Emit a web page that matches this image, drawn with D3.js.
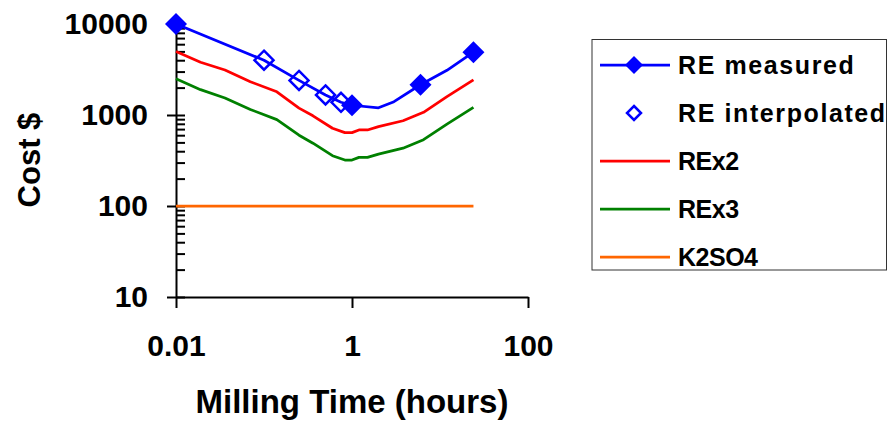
<!DOCTYPE html>
<html>
<head>
<meta charset="utf-8">
<script src="https://cdn.jsdelivr.net/npm/d3@7"></script>
<style>
	body { margin: 0; background: #fff; }
	svg { display: block; font-family: 'Liberation Sans', Arial, sans-serif; font-weight: bold; }
</style>
</head>
<body>
<svg id="chart" width="888" height="422"></svg>
<script>
// values (hours, $)
const measuredLineHours = [0.01, 0.1, 0.25, 0.5, 0.75, 1, 2, 3, 6, 12, 24]
const measuredLineCost = [10000, 4000, 2400, 1660, 1380, 1280, 1200, 1400, 2150, 3100, 4900]

const measuredHours = [0.01, 1, 6, 24]
const measuredCost = [10000, 1280, 2150, 4900]

const interpolatedHours = [0.1, 0.25, 0.5, 0.75]
const interpolatedCost = [4000, 2400, 1660, 1380]

const reHours = [0.01, 0.019, 0.036, 0.07, 0.14, 0.25, 0.36, 0.6, 0.83, 1, 1.2, 1.5, 2, 3.8, 6.5, 12, 24]
const rex2Cost = [5000, 3800, 3120, 2320, 1800, 1190, 980, 715, 640, 640, 685, 685, 745, 865, 1070, 1590, 2430]
const rex3Cost = [2500, 1900, 1540, 1150, 890, 600, 490, 357, 320, 320, 342, 342, 372, 432, 535, 795, 1215]

const k2so4Hours = [0.01, 24]
const k2so4Cost = [100, 100]

const xTicks = [0.01, 1, 100]
const yTicks = [10, 100, 1000, 10000]
const legendLabels = ['RE measured', 'RE interpolated', 'REx2', 'REx3', 'K2SO4']

const colors = { blue: '#0000ff', red: '#ff0000', green: '#008000', orange: '#ff6600' }

const svg = d3.select('#chart')

const x = d3.scaleLog().domain([0.01, 100]).range([176, 528])
const y = d3.scaleLog().domain([10, 10000]).range([297, 24])

// minor ticks 2..9 per decade, inside the plot
const yMinor = []
yTicks.slice(0, -1).forEach(d => {
	for (let k = 2; k <= 9; k++) yMinor.push(d * k)
})

const yAxisG = svg.append('g').attr('transform', 'translate(176,0)')
yAxisG.call(
	d3.axisLeft(y)
		.tickValues(yTicks)
		.tickSize(9)
		.tickSizeOuter(0)
		.tickPadding(19)
		.tickFormat(d3.format('d'))
)
yAxisG.append('g').call(
	d3.axisRight(y)
		.tickValues(yTicks.concat(yMinor))
		.tickSize(9)
		.tickSizeOuter(0)
		.tickFormat('')
)
yAxisG.select('g path.domain').remove()

const xAxisG = svg.append('g').attr('transform', 'translate(0,297)')
xAxisG.call(
	d3.axisBottom(x)
		.tickValues(xTicks)
		.tickSize(11)
		.tickSizeOuter(0)
		.tickPadding(27)
		.tickFormat(d => (d < 1 ? d3.format('.2f')(d) : d3.format('d')(d)))
)

svg.selectAll('.domain, .tick line')
	.attr('stroke', '#000')
	.attr('stroke-width', 2)
svg.selectAll('.tick text')
	.attr('fill', '#000')
	.style('font-size', '30px')
	.style('font-weight', 'bold')

// axis titles
svg.append('text')
	.attr('x', 352)
	.attr('y', 413)
	.attr('text-anchor', 'middle')
	.style('font-size', '33px')
	.text('Milling Time (hours)')

svg.append('text')
	.attr('transform', 'translate(40,160) rotate(-90)')
	.attr('text-anchor', 'middle')
	.style('font-size', '31px')
	.text('Cost $')

const line = d3.line()
	.x(d => x(d[0]))
	.y(d => y(d[1]))

const zipData = (xs, ys) => xs.map((v, i) => [v, ys[i]])

const series = [
	{ data: zipData(k2so4Hours, k2so4Cost), color: colors.orange },
	{ data: zipData(reHours, rex3Cost), color: colors.green },
	{ data: zipData(reHours, rex2Cost), color: colors.red },
	{ data: zipData(measuredLineHours, measuredLineCost), color: colors.blue }
]

svg.append('g')
	.selectAll('path')
	.data(series)
	.enter()
	.append('path')
	.attr('d', d => line(d.data))
	.attr('fill', 'none')
	.attr('stroke', d => d.color)
	.attr('stroke-width', 2.75)
	.attr('stroke-linejoin', 'round')

const diamond = r => `M0,${-r}L${r},0L0,${r}L${-r},0Z`

svg.append('g')
	.selectAll('path')
	.data(zipData(interpolatedHours, interpolatedCost))
	.enter()
	.append('path')
	.attr('transform', d => `translate(${x(d[0])},${y(d[1])})`)
	.attr('d', diamond(9.5))
	.attr('fill', 'none')
	.attr('stroke', colors.blue)
	.attr('stroke-width', 2.5)

svg.append('g')
	.selectAll('path')
	.data(zipData(measuredHours, measuredCost))
	.enter()
	.append('path')
	.attr('transform', d => `translate(${x(d[0])},${y(d[1])})`)
	.attr('d', diamond(11))
	.attr('fill', colors.blue)

// legend
const legend = svg.append('g')
legend.append('rect')
	.attr('x', 592)
	.attr('y', 39.5)
	.attr('width', 294.5)
	.attr('height', 230.5)
	.attr('fill', '#fff')
	.attr('stroke', '#333')
	.attr('stroke-width', 1)

const legendColors = [colors.blue, colors.blue, colors.red, colors.green, colors.orange]
const legendY = i => 65 + i * 48

const rows = legend.selectAll('g.row')
	.data(legendLabels)
	.enter()
	.append('g')
	.attr('class', 'row')
	.attr('transform', (d, i) => `translate(0,${legendY(i)})`)

rows.filter((d, i) => i !== 1)
	.append('line')
	.attr('x1', 600)
	.attr('x2', 670)
	.attr('stroke', d => legendColors[legendLabels.indexOf(d)])
	.attr('stroke-width', 2.75)

rows.filter((d, i) => i === 0)
	.append('path')
	.attr('transform', 'translate(634,0)')
	.attr('d', diamond(9))
	.attr('fill', colors.blue)

rows.filter((d, i) => i === 1)
	.append('path')
	.attr('transform', 'translate(634,0)')
	.attr('d', diamond(7))
	.attr('fill', 'none')
	.attr('stroke', colors.blue)
	.attr('stroke-width', 2.5)

rows.append('text')
	.attr('x', 678)
	.attr('y', 9)
	.style('font-size', '25px')
	.style('letter-spacing', (d, i) => (i < 2 ? '1.6px' : '-0.5px'))
	.text(d => d)
</script>
</body>
</html>
